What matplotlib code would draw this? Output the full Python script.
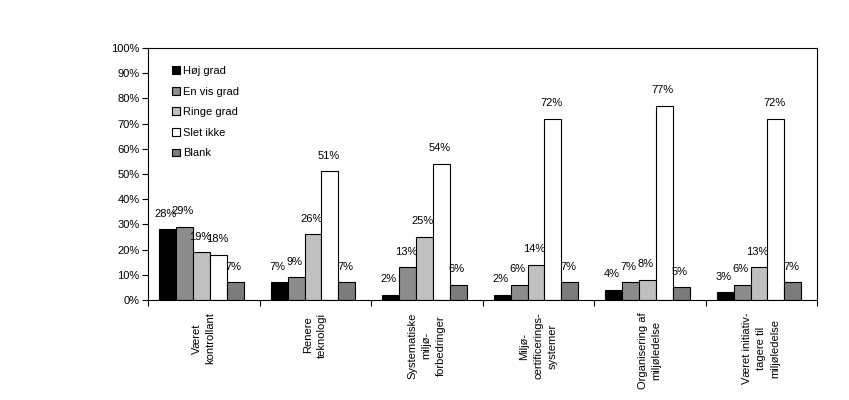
import matplotlib
matplotlib.use("Agg")
import matplotlib.pyplot as plt
import numpy as np

plt.rcParams['font.family'] = ['Liberation Sans', 'DejaVu Sans']

categories = ["Været\nkontrollant", "Renere\nteknologi", "Systematiske\nmiljø-\nforbedringer",
              "Miljø-\ncertificerings-\nsystemer", "Organisering af\nmiljøledelse",
              "Været initiativ-\ntagere til\nmiljøledelse"]
series_names = ["Høj grad", "En vis grad", "Ringe grad", "Slet ikke", "Blank"]
hoj_grad = [28, 7, 2, 2, 4, 3]
en_vis_grad = [29, 9, 13, 6, 7, 6]
ringe_grad = [19, 26, 25, 14, 8, 13]
slet_ikke = [18, 51, 54, 72, 77, 72]
blank = [7, 7, 6, 7, 5, 7]
series = [hoj_grad, en_vis_grad, ringe_grad, slet_ikke, blank]
colors = ["#000000", "#8c8c8c", "#c0c0c0", "#ffffff", "#7c7c7c"]
yticks = [0, 10, 20, 30, 40, 50, 60, 70, 80, 90, 100]

fig = plt.figure(figsize=(8.49, 4.0), dpi=100)
ax = fig.add_axes([148/849, 0.25, (817-148)/849, 0.63])

n = len(categories)
w = 0.152
centers = np.arange(n) + 0.5
fs = 8
for k, (vals, col, name) in enumerate(zip(series, colors, series_names)):
    xs = centers + (k - 2) * w - 0.02
    ax.bar(xs, vals, width=w, color=col, edgecolor="black", linewidth=0.8, label=name)
    for x, v in zip(xs, vals):
        ax.text(x - 0.015, v + 4.2, f"{v}%", ha="center", va="bottom", fontsize=fs)

ax.set_xlim(0, n)
ax.set_ylim(0, 100)
ax.set_yticks(yticks)
ax.set_yticklabels([f"{t}%" for t in yticks], fontsize=fs)
ax.set_xticks(np.arange(n + 1))
ax.set_xticklabels([])
ax.tick_params(axis="x", direction="out", length=4, width=0.8)
ax.tick_params(axis="y", direction="out", length=4, width=0.8, pad=2)
for c, lab in zip(centers, categories):
    ax.text(c, -5, lab, rotation=90, ha="center", va="top", multialignment="center",
            fontsize=fs, linespacing=1.5, transform=ax.transData)
for s in ax.spines.values():
    s.set_linewidth(0.8)

leg = ax.legend(loc="upper left", bbox_to_anchor=(0.036, 0.928), frameon=False, fontsize=fs,
                handlelength=0.7, handleheight=0.7, handletextpad=0.25, labelspacing=0.95,
                borderpad=0, borderaxespad=0)

fig.savefig("out.png", dpi=100)
